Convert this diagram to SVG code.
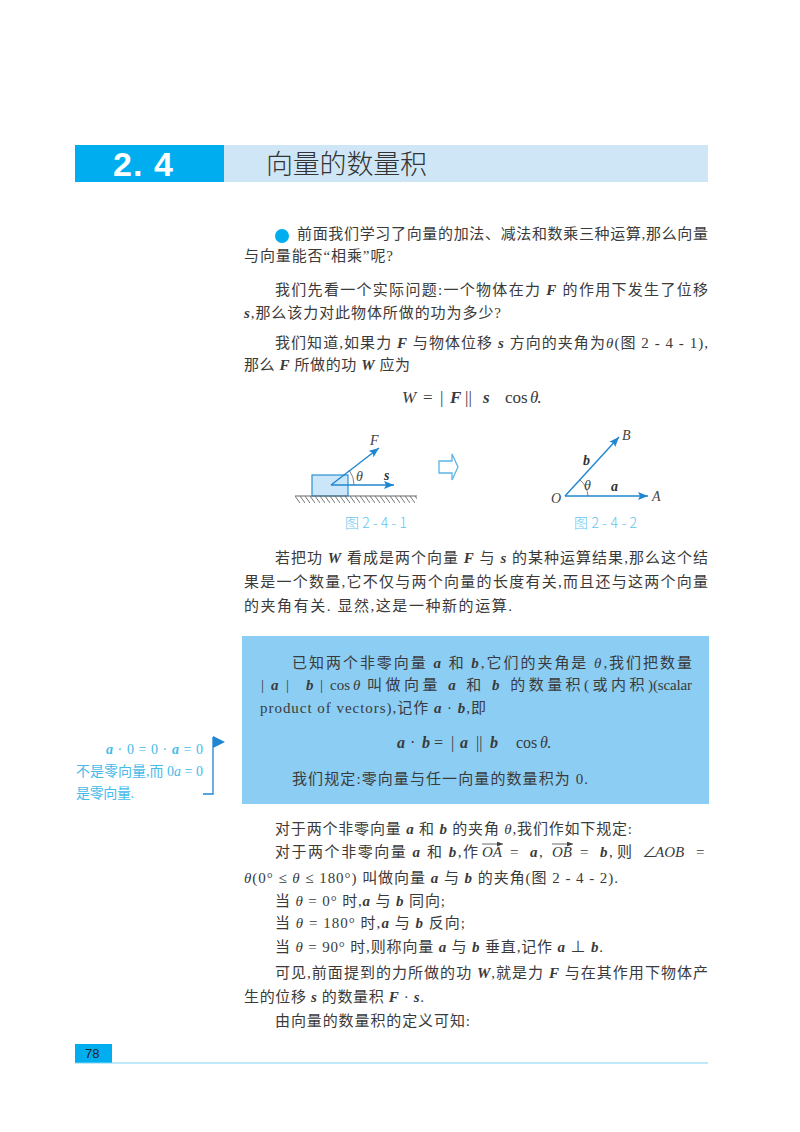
<svg xmlns="http://www.w3.org/2000/svg" width="800" height="1132" viewBox="0 0 800 1132">
<style>
text{font-family:"Liberation Serif","Noto Sans CJK SC",serif;fill:#3a3a3a}
.t{font-family:"Liberation Serif","Noto Sans CJK SC",serif;font-size:15px}
.b{font-family:"Liberation Serif",serif;font-weight:bold;font-style:italic}
.i{font-family:"Liberation Serif",serif;font-style:italic}
.m{font-size:14px;fill:#45bbea}
.cap{font-size:14px;fill:#62c5ef;font-family:"Noto Sans CJK SC",sans-serif;font-weight:300}
.l{font-size:14px;font-style:italic;font-family:"Liberation Serif",serif;fill:#444}
.lb{font-size:14px;font-weight:bold;font-style:italic;font-family:"Liberation Serif",serif;fill:#333}
.v{stroke:#1f87d2;stroke-width:1.4;fill:none}
.arc{stroke:#666;stroke-width:.8;fill:none}
.hatch{stroke:#777;stroke-width:1}
</style>
<defs>
<marker id="ah" markerUnits="userSpaceOnUse" markerWidth="12" markerHeight="8" refX="10" refY="4" orient="auto"><path d="M0 0L10 4L0 8L2 4Z" fill="#1f87d2"/></marker>
<marker id="ov" markerUnits="userSpaceOnUse" markerWidth="7" markerHeight="5" refX="6" refY="2.5" orient="auto"><path d="M0 0L6 2.5L0 5Z" fill="#444"/></marker>
<pattern id="hp" width="5" height="7" patternUnits="userSpaceOnUse" patternTransform="translate(295 496)"><path d="M0 0L5 7" class="hatch"/></pattern>
</defs>

<g id="header">
<rect x="75" y="145" width="149" height="37" fill="#00aeef"/>
<rect x="224" y="145" width="484" height="37" fill="#cfe6f7"/>
<text x="113" y="176" font-size="34" font-weight="bold" style="font-family:'Liberation Sans',sans-serif;fill:#fff" textLength="60">2. 4</text>
<text x="266" y="174" font-size="27" style="font-family:'Noto Sans CJK SC',sans-serif;fill:#333;font-weight:300" textLength="161">向量的数量积</text>
</g>

<g id="intro">
<circle cx="282" cy="236" r="7" fill="#00aeef"/>
<text class="t" x="297" y="239" textLength="411">前面我们学习了向量的加法、减法和数乘三种运算,那么向量</text>
<text class="t" x="244" y="261" textLength="149">与向量能否“相乘”呢?</text>
<text class="t" x="275" y="295" textLength="433">我们先看一个实际问题:一个物体在力 <tspan class="b">F</tspan> 的作用下发生了位移</text>
<text class="t" x="244" y="318" textLength="257"><tspan class="b">s</tspan>,那么该力对此物体所做的功为多少?</text>
<text class="t" x="275" y="348" textLength="433">我们知道,如果力 <tspan class="b">F</tspan> 与物体位移 <tspan class="b">s</tspan> 方向的夹角为<tspan class="i">θ</tspan>(图 2 - 4 - 1),</text>
<text class="t" x="244" y="370" textLength="166">那么 <tspan class="b">F</tspan> 所做的功 <tspan class="b">W</tspan> 应为</text>
<text class="t" y="403" font-size="17" style="font-size:17px"><tspan class="i" x="402">W</tspan><tspan x="423">=</tspan><tspan x="440">|</tspan><tspan class="b" x="450">F</tspan><tspan x="465">||</tspan><tspan class="b" x="483">s</tspan><tspan x="505">cos</tspan><tspan class="i" x="530">θ</tspan><tspan x="537">.</tspan></text>
</g>

<g id="figure-2-4-1">
<rect x="312" y="475" width="36" height="21" fill="#cbe6f8" stroke="#2a8fd4" stroke-width="1.2"/>
<rect x="295" y="496" width="122" height="7" fill="url(#hp)"/>
<line x1="295" y1="496" x2="417" y2="496" stroke="#666" stroke-width="1"/>
<line class="v" x1="331" y1="485" x2="379" y2="448" marker-end="url(#ah)"/>
<line class="v" x1="331" y1="485" x2="394" y2="485" marker-end="url(#ah)"/>
<path class="arc" d="M349 470A23 23 0 0 1 354 485"/>
<text class="l" x="370" y="445">F</text>
<text class="l" x="356" y="481">θ</text>
<text class="lb" x="384" y="480">s</text>
<text class="cap" x="345" y="528" textLength="62">图 2 - 4 - 1</text>
</g>

<g id="hollow-arrow">
<path d="M439 461H452V454L458 467L452 480V473H439Z" fill="#fff" stroke="#5db4e6" stroke-width="1.3"/>
</g>

<g id="figure-2-4-2">
<line class="v" x1="565" y1="496" x2="648" y2="496" marker-end="url(#ah)"/>
<line class="v" x1="565" y1="496" x2="619" y2="437" marker-end="url(#ah)"/>
<path class="arc" d="M580 480A23 23 0 0 1 588 496"/>
<text class="l" x="551" y="503">O</text>
<text class="l" x="652" y="501">A</text>
<text class="l" x="622" y="440">B</text>
<text class="lb" x="583" y="465">b</text>
<text class="lb" x="611" y="491">a</text>
<text class="l" x="584" y="490">θ</text>
<text class="cap" x="574" y="528" textLength="63">图 2 - 4 - 2</text>
</g>

<g id="para-2">
<text class="t" x="275" y="563" textLength="433">若把功 <tspan class="b">W</tspan> 看成是两个向量 <tspan class="b">F</tspan> 与 <tspan class="b">s</tspan> 的某种运算结果,那么这个结</text>
<text class="t" x="244" y="587" textLength="464">果是一个数量,它不仅与两个向量的长度有关,而且还与这两个向量</text>
<text class="t" x="244" y="611" textLength="268">的夹角有关. 显然,这是一种新的运算.</text>
</g>

<g id="definition-box">
<rect x="242" y="636" width="467" height="168" fill="#8ccdf3"/>
<text class="t" x="292" y="668" textLength="400">已知两个非零向量 <tspan class="b">a</tspan> 和 <tspan class="b">b</tspan>,它们的夹角是 <tspan class="i">θ</tspan>,我们把数量</text>
<text class="t" y="690"><tspan x="261">|</tspan><tspan class="b" x="271">a</tspan><tspan x="286">|</tspan><tspan class="b" x="306">b</tspan><tspan x="320">|</tspan><tspan x="330">cos</tspan><tspan class="i" x="353">θ</tspan></text>
<text class="t" x="367" y="690" textLength="286">叫做向量 <tspan class="b">a</tspan> 和 <tspan class="b">b</tspan> 的数量积(或内积)</text>
<text class="t" x="653" y="690" textLength="39">(scalar</text>
<text class="t" x="260" y="713" textLength="226">product of vectors),记作 <tspan class="b">a</tspan> · <tspan class="b">b</tspan>,即</text>
<text class="t" y="748" style="font-size:16px"><tspan class="b" x="397">a</tspan><tspan x="410">·</tspan><tspan class="b" x="422">b</tspan><tspan x="434">=</tspan><tspan x="451">|</tspan><tspan class="b" x="460">a</tspan><tspan x="476">||</tspan><tspan class="b" x="490">b</tspan><tspan x="516">cos</tspan><tspan class="i" x="540">θ</tspan><tspan x="547">.</tspan></text>
<text class="t" x="292" y="784" textLength="296">我们规定:零向量与任一向量的数量积为 0.</text>
</g>

<g id="margin-note">
<text class="m" x="106" y="754" textLength="97"><tspan class="b">a</tspan> · 0 = 0 · <tspan class="b">a</tspan> = 0</text>
<text class="m" x="76" y="776" textLength="127">不是零向量,而 0<tspan class="i">a</tspan> = 0</text>
<text class="m" x="76" y="798" textLength="58">是零向量.</text>
<path d="M203 794H213V737" fill="none" stroke="#1f87d2" stroke-width="1.3"/>
<path d="M213 736L225 742L213 748Z" fill="#1f87d2"/>
</g>

<g id="para-3">
<text class="t" x="275" y="834" textLength="357">对于两个非零向量 <tspan class="b">a</tspan> 和 <tspan class="b">b</tspan> 的夹角 <tspan class="i">θ</tspan>,我们作如下规定:</text>
<text class="t" x="275" y="857" textLength="203">对于两个非零向量 <tspan class="b">a</tspan> 和 <tspan class="b">b</tspan>,作</text>
<text class="t" y="857"><tspan class="i" x="482">OA</tspan><tspan x="510">=</tspan><tspan class="b" x="530">a</tspan><tspan x="539">,</tspan><tspan class="i" x="552">OB</tspan><tspan x="580">=</tspan><tspan class="b" x="600">b</tspan><tspan x="609">,</tspan><tspan x="617">则</tspan><tspan x="642">∠</tspan><tspan class="i" x="655">AOB</tspan><tspan x="696">=</tspan></text>
<line x1="482" y1="844" x2="503" y2="844" stroke="#444" stroke-width=".8" marker-end="url(#ov)"/>
<line x1="552" y1="844" x2="573" y2="844" stroke="#444" stroke-width=".8" marker-end="url(#ov)"/>
<text class="t" x="244" y="883" textLength="374"><tspan class="i">θ</tspan>(0° ≤ <tspan class="i">θ</tspan> ≤ 180°) 叫做向量 <tspan class="b">a</tspan> 与 <tspan class="b">b</tspan> 的夹角(图 2 - 4 - 2).</text>
<text class="t" x="275" y="906" textLength="170">当 <tspan class="i">θ</tspan> = 0° 时,<tspan class="b">a</tspan> 与 <tspan class="b">b</tspan> 同向;</text>
<text class="t" x="275" y="928" textLength="190">当 <tspan class="i">θ</tspan> = 180° 时,<tspan class="b">a</tspan> 与 <tspan class="b">b</tspan> 反向;</text>
<text class="t" x="275" y="952" textLength="328">当 <tspan class="i">θ</tspan> = 90° 时,则称向量 <tspan class="b">a</tspan> 与 <tspan class="b">b</tspan> 垂直,记作 <tspan class="b">a</tspan> ⊥ <tspan class="b">b</tspan>.</text>
<text class="t" x="275" y="978" textLength="433">可见,前面提到的力所做的功 <tspan class="b">W</tspan>,就是力 <tspan class="b">F</tspan> 与在其作用下物体产</text>
<text class="t" x="244" y="1002" textLength="180">生的位移 <tspan class="b">s</tspan> 的数量积 <tspan class="b">F</tspan> · <tspan class="b">s</tspan>.</text>
<text class="t" x="275" y="1026" textLength="195">由向量的数量积的定义可知:</text>
</g>

<g id="footer">
<rect x="75" y="1044" width="37" height="19" fill="#00aeef"/>
<line x1="75" y1="1063" x2="708" y2="1063" stroke="#7fd3f2" stroke-width="1"/>
<text x="85" y="1058" font-size="13" style="font-family:'Liberation Sans',sans-serif;fill:#222">78</text>
</g>
</svg>
